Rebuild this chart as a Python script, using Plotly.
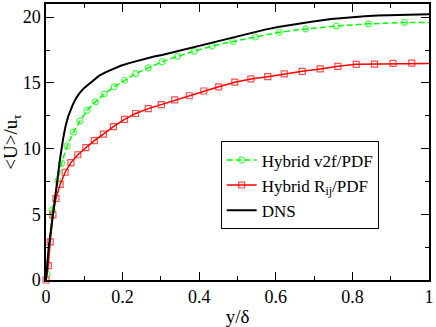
import plotly.graph_objects as go

# Hybrid v2f/PDF (green circles, dashed)
v2f_x = [0.003, 0.016, 0.031, 0.041, 0.055, 0.072, 0.089, 0.107, 0.129, 0.152, 0.178, 0.205,
         0.234, 0.267, 0.303, 0.343, 0.387, 0.434, 0.488, 0.546, 0.609, 0.678, 0.758, 0.842,
         0.936, 1.0]
v2f_u = [0.45, 5.3, 7.55, 8.9, 10.2, 11.25, 12.1, 12.9, 13.55, 14.15, 14.7, 15.2,
         15.7, 16.14, 16.6, 17.02, 17.4, 17.8, 18.15, 18.49, 18.85, 19.1, 19.32, 19.49,
         19.6, 19.6]

# Hybrid Rij/PDF (red squares, solid)
rij_x = [0.0, 0.006, 0.011, 0.018, 0.026, 0.037, 0.050, 0.065, 0.083, 0.104, 0.126, 0.150,
         0.176, 0.205, 0.234, 0.267, 0.301, 0.336, 0.374, 0.412, 0.451, 0.493, 0.535, 0.579,
         0.622, 0.669, 0.716, 0.762, 0.810, 0.858, 0.906, 0.955, 1.0]
rij_u = [0.0, 1.1, 2.9, 4.95, 6.2, 7.27, 8.2, 8.93, 9.53, 10.07, 10.6, 11.1,
         11.67, 12.22, 12.67, 13.04, 13.35, 13.7, 14.02, 14.38, 14.7, 15.05, 15.3, 15.47,
         15.68, 15.88, 16.06, 16.26, 16.41, 16.43, 16.48, 16.5, 16.48]

# DNS (black line)
dns_x = [0.0, 0.003, 0.007, 0.0135, 0.018, 0.0225, 0.0265, 0.03, 0.037, 0.045, 0.051, 0.058,
         0.064, 0.07, 0.078, 0.087, 0.099, 0.113, 0.125, 0.139, 0.155, 0.173, 0.195, 0.217,
         0.238, 0.26, 0.282, 0.303, 0.342, 0.37, 0.4, 0.433, 0.485, 0.53, 0.572,
         0.606, 0.65, 0.693, 0.745, 0.78, 0.832, 0.866, 0.918, 0.953, 1.0]
dns_u = [0.0, 1.2, 2.5, 3.9, 5.0, 6.1, 7.0, 7.8, 9.3, 10.8, 11.7, 12.45,
         12.95, 13.35, 13.8, 14.2, 14.6, 14.95, 15.25, 15.55, 15.8, 16.05, 16.3, 16.5,
         16.68, 16.84, 17.0, 17.12, 17.4, 17.6, 17.82, 18.07, 18.45, 18.78, 19.05,
         19.25, 19.48, 19.65, 19.85, 19.95, 20.07, 20.13, 20.18, 20.21, 20.22]

FONT = "Liberation Serif, Times New Roman, serif"
MS = 6

fig = go.Figure()
fig.add_trace(go.Scatter(
    x=v2f_x, y=v2f_u, mode="lines+markers", name="Hybrid v2f/PDF",
    line=dict(color="#00ff00", width=1.5, dash="6px,3px"),
    marker=dict(symbol="circle-open", color="#00ff00", line=dict(width=1.2),
                size=[MS] * (len(v2f_x) - 1) + [0]),
    cliponaxis=False))
fig.add_trace(go.Scatter(
    x=rij_x, y=rij_u, mode="lines+markers", name="Hybrid R<sub>ij</sub>/PDF",
    line=dict(color="#ff0000", width=1.5),
    marker=dict(symbol="square-open", color="#ff0000", line=dict(width=1.2),
                size=[MS] * (len(rij_x) - 1) + [0]),
    cliponaxis=False))
fig.add_trace(go.Scatter(
    x=dns_x, y=dns_u, mode="lines", name="DNS",
    line=dict(color="black", width=2)))

axis_common = dict(
    showline=True, linecolor="black", linewidth=1.5, mirror="allticks",
    ticks="inside", ticklen=8, tickwidth=1.2, tickcolor="black",
    showgrid=False, zeroline=False,
    tickfont=dict(family=FONT, size=18, color="black"),
)
fig.update_xaxes(range=[0, 1],
                 tickvals=[0, 0.2, 0.4, 0.6, 0.8, 1], ticktext=["0", "0.2", "0.4", "0.6", "0.8", "1"],
                 minor=dict(ticks="inside", ticklen=4, dtick=0.1, tick0=0, tickcolor="black", showgrid=False),
                 title=dict(text="y/δ", font=dict(family=FONT, size=19, color="black"), standoff=4),
                 **axis_common)
fig.update_yaxes(range=[0, 21], tick0=0, dtick=5,
                 minor=dict(ticks="inside", ticklen=4, dtick=2.5, tick0=0, tickcolor="black", showgrid=False),
                 title=dict(text="&lt;U&gt;/u<sub>τ</sub>", font=dict(family=FONT, size=19, color="black"), standoff=6),
                 **axis_common)

fig.update_layout(
    width=436, height=327,
    margin=dict(l=46, r=6, t=2, b=44),
    plot_bgcolor="white", paper_bgcolor="white",
    font=dict(family=FONT, size=18, color="black"),
    legend=dict(x=0.456, y=0.502, xanchor="left", yanchor="top",
                bordercolor="black", borderwidth=1, bgcolor="white",
                font=dict(family=FONT, size=17, color="black"),
                itemwidth=30, tracegroupgap=0),
    showlegend=True,
)

post = "document.body.style.margin='0';document.body.style.padding='0';"
fig.write_html("out.html", config={"displayModeBar": False}, post_script=post)
